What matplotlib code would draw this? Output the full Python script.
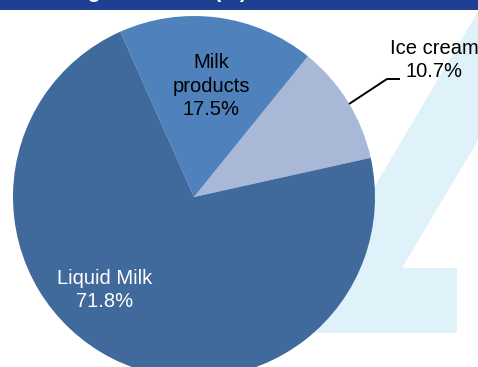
import matplotlib.pyplot as plt
from matplotlib.patches import Polygon, Rectangle

plt.rcParams['font.family'] = ['Liberation Sans', 'DejaVu Sans']

# === data ===
labels = ["Ice cream", "Milk products", "Liquid Milk"]
shares = [10.7, 17.5, 71.8]
colors = ["#a9b8d7", "#4f81bd", "#40699c"]
title = "Segment sales (%)"

W, H = 478, 367
fig = plt.figure(figsize=(W / 100, H / 100), dpi=100)
ax = fig.add_axes([0, 0, 1, 1])

def py(y):
    # pixel row (from top) -> data y
    return H - y

# light blue "4" watermark behind the pie
k = 0.59
wm = [(473 + k * 20, py(0)), (473 + k * 150, py(0)), (402, py(268)), (457, py(268)),
      (457, py(333)), (473 - k * 313, py(333))]
ax.add_patch(Polygon(wm, closed=True, facecolor="#dff1f9", edgecolor="none", zorder=0))

# pie
cx, cy, r = 194, py(197), 181
ax.pie(shares, colors=colors, startangle=12.5, counterclock=True,
       center=(cx, cy), radius=r, frame=True,
       wedgeprops=dict(linewidth=0))

# slice labels (va=baseline -> baseline of the last line)
fs = 14.5
ls = 1.29
ax.text(211, py(115), "Milk\nproducts\n17.5%", ha="center", va="baseline",
        fontsize=fs, color="black", linespacing=ls, zorder=5)
ax.text(105, py(307), "Liquid Milk\n71.8%", ha="center", va="baseline",
        fontsize=fs, color="white", linespacing=ls, zorder=5)
ax.text(434, py(77), "Ice cream\n10.7%", ha="center", va="baseline",
        fontsize=fs, color="black", linespacing=ls, zorder=5)
ax.plot([349, 387, 400], [py(104), py(79), py(79)], color="black", lw=1.4,
        solid_capstyle="butt", zorder=5)

# title bar (mostly cut off at the top)
ax.add_patch(Rectangle((0, py(10)), W, 10, facecolor="#1f3f93", edgecolor="none",
                       zorder=6, clip_on=False))
ax.text(62, py(-1.5), title, ha="left", va="baseline", fontsize=15,
        fontweight="bold", color="white", zorder=7, clip_on=False)

ax.set_xlim(0, W)
ax.set_ylim(0, H)
ax.set_aspect("auto")
ax.axis("off")

fig.savefig("out.png", dpi=100, facecolor="white")
